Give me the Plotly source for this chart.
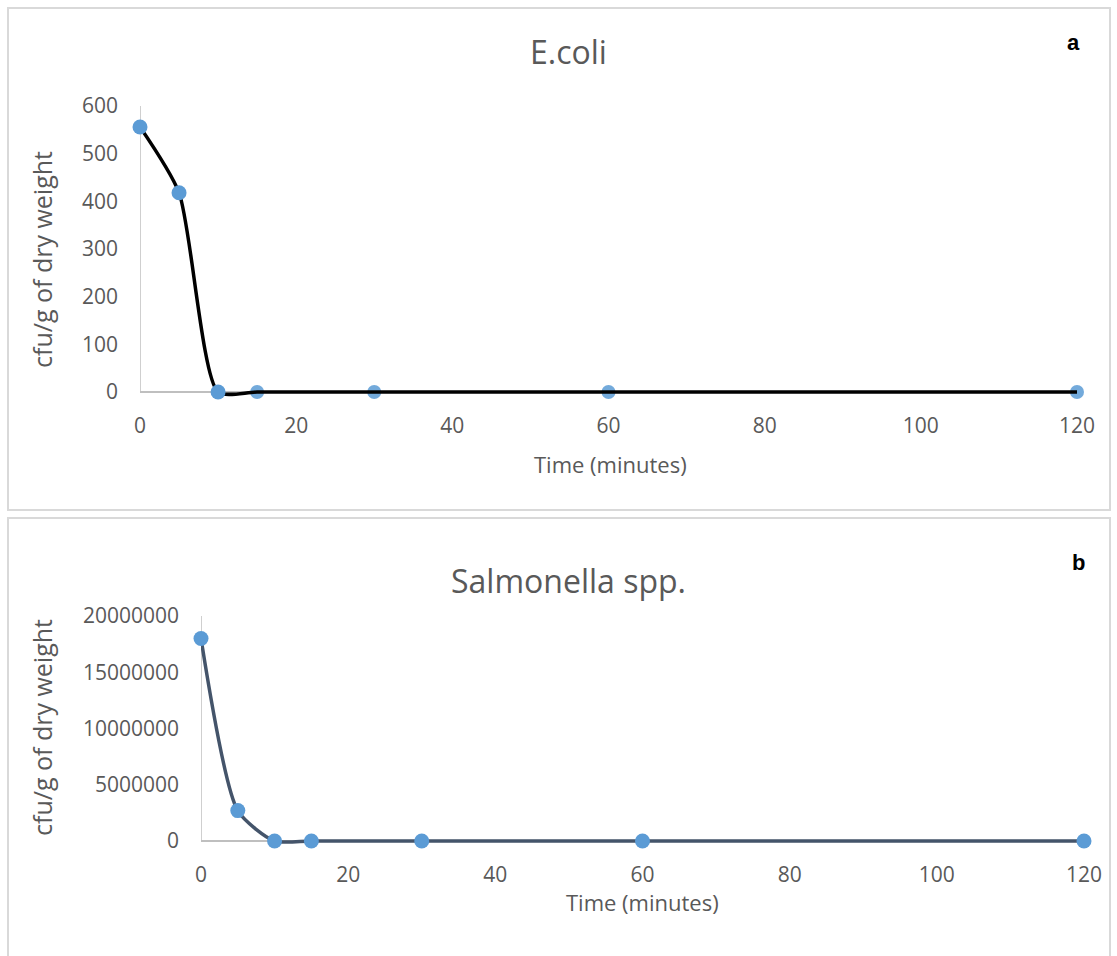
import plotly.graph_objects as go

# Sampling times (minutes) and counts for both organisms
time_min = [0, 5, 10, 15, 30, 60, 120]
ecoli_cfu = [556, 418, 0, 0, 0, 0, 0]
salmonella_cfu = [18000000, 2700000, 0, 0, 0, 0, 0]

ecoli_yticks = [0, 100, 200, 300, 400, 500, 600]
salm_yticks = [0, 5000000, 10000000, 15000000, 20000000]
xticks = [0, 20, 40, 60, 80, 100, 120]

W, H = 1117, 956
FONT = "Open Sans"
TXT = "#595959"
MARKER = "#5B9BD5"
AXIS = "#BFBFBF"


def px(x):
    return x / W


def py(y):
    return 1 - y / H


fig = go.Figure()

# Panel a: E.coli (markers after the drop sit beneath the line)
fig.add_trace(go.Scatter(
    x=time_min[3:], y=ecoli_cfu[3:], mode="markers",
    marker=dict(color=MARKER, size=14, opacity=0.85),
    xaxis="x", yaxis="y", cliponaxis=False, showlegend=False))
fig.add_trace(go.Scatter(
    x=time_min, y=ecoli_cfu, mode="lines",
    line=dict(color="#000000", width=3.5, shape="spline", smoothing=0.65),
    xaxis="x", yaxis="y", showlegend=False))
fig.add_trace(go.Scatter(
    x=time_min[:3], y=ecoli_cfu[:3], mode="markers",
    marker=dict(color=MARKER, size=15),
    xaxis="x", yaxis="y", cliponaxis=False, showlegend=False))

# Panel b: Salmonella spp.
fig.add_trace(go.Scatter(
    x=time_min, y=salmonella_cfu, mode="lines+markers",
    line=dict(color="#44546A", width=3.5, shape="spline", smoothing=0.65),
    marker=dict(color=MARKER, size=15),
    xaxis="x2", yaxis="y2", cliponaxis=False, showlegend=False))

axis_common = dict(
    showgrid=False, ticks="", showline=False, automargin=False,
    tickfont=dict(family=FONT, size=21, color=TXT),
)

# y ranges reach a little below zero so the line along zero is not clipped;
# the zero line serves as the horizontal axis line
fig.update_layout(
    template="none",
    width=W, height=H, autosize=False,
    margin=dict(l=0, r=0, t=0, b=0, pad=0),
    paper_bgcolor="white", plot_bgcolor="white",
    font=dict(family=FONT, color=TXT),
    xaxis=dict(domain=[px(140), px(1077)], range=[0, 120], tickvals=xticks,
               anchor="y", zeroline=False, ticklabelstandoff=9, **axis_common),
    yaxis=dict(domain=[py(402), py(106)], range=[-21, 600], tickvals=ecoli_yticks,
               anchor="x", zeroline=True, zerolinecolor=AXIS, zerolinewidth=1.5,
               ticklabelstandoff=21, **axis_common),
    xaxis2=dict(domain=[px(201), px(1084)], range=[0, 120], tickvals=xticks,
                anchor="y2", zeroline=False, ticklabelstandoff=9, **axis_common),
    yaxis2=dict(domain=[py(851), py(616)], range=[-888889, 20000000],
                tickvals=salm_yticks, ticktext=[str(v) for v in salm_yticks],
                anchor="x2", zeroline=True, zerolinecolor=AXIS, zerolinewidth=1.5,
                ticklabelstandoff=21, **axis_common),
)

# Vertical axis lines from zero to the top tick
fig.add_shape(type="line", xref="x", yref="y", x0=0, x1=0, y0=0, y1=612,
              line=dict(color=AXIS, width=1.5), layer="below")
fig.add_shape(type="line", xref="x2", yref="y2", x0=0, x1=0, y0=0, y1=20400000,
              line=dict(color=AXIS, width=1.5), layer="below")

# Panel frames
for y0, y1 in [(8, 510), (518, 960)]:
    fig.add_shape(type="rect", xref="paper", yref="paper",
                  x0=px(8), x1=px(1110), y0=py(y1), y1=py(y0),
                  line=dict(color="#D9D9D9", width=2), fillcolor="rgba(0,0,0,0)",
                  layer="below")

ann = []
# Chart titles
ann.append(dict(text="E.coli", x=px(568), y=py(52), font=dict(size=32, color=TXT)))
ann.append(dict(text="Salmonella spp.", x=px(568), y=py(580), font=dict(size=32, color=TXT)))
# Panel letters
ann.append(dict(text="<b>a</b>", x=px(1073), y=py(43),
                font=dict(family="Liberation Sans", size=22, color="#000000")))
ann.append(dict(text="<b>b</b>", x=px(1078), y=py(562),
                font=dict(family="Liberation Sans", size=22, color="#000000")))
# Axis titles
ann.append(dict(text="Time (minutes)", x=px(610), y=py(464), font=dict(size=22, color=TXT)))
ann.append(dict(text="Time (minutes)", x=px(642), y=py(902), font=dict(size=22, color=TXT)))
ann.append(dict(text="cfu/g of dry weight", x=px(42), y=py(260), textangle=-90,
                font=dict(size=25, color=TXT)))
ann.append(dict(text="cfu/g of dry weight", x=px(42), y=py(728), textangle=-90,
                font=dict(size=25, color=TXT)))

for a in ann:
    a.update(xref="paper", yref="paper", showarrow=False,
             xanchor="center", yanchor="middle")
    a["font"].setdefault("family", FONT)
fig.update_layout(annotations=ann)

fig.write_html("out.html",
               post_script="document.body.style.margin='0';"
                           "document.body.style.overflow='hidden';")
